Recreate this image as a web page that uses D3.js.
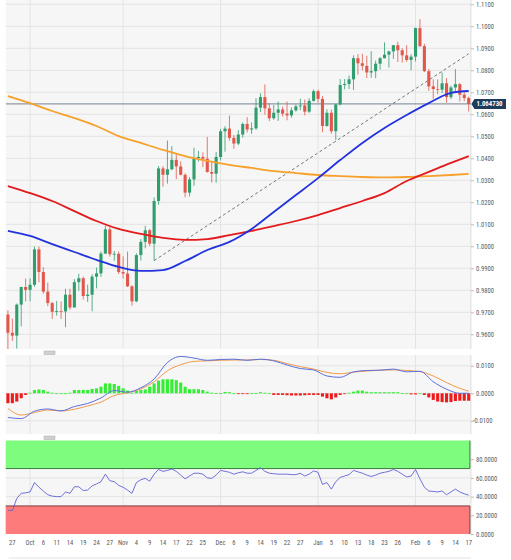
<!DOCTYPE html>
<html>
<head>
<meta charset="utf-8">
<script src="https://cdn.jsdelivr.net/npm/d3@7"></script>
<style>
  body { margin: 0; background: #fff; }
  text { font-family: "Liberation Sans Narrow", "Roboto Condensed", "Liberation Sans", Arial, sans-serif; }
</style>
</head>
<body>
<svg id="chart" width="511" height="560"></svg>
<script>
// daily candles, 26 Sep 2022 - 17 Feb 2023 (weekdays)
var openP = [0.9690,0.9607,0.9594,0.9735,0.9815,0.9802,0.9825,0.9986,0.9883,0.9794,
  0.9742,0.9702,0.9706,0.9704,0.9780,0.9722,0.9837,0.9855,0.9774,0.9780,
  0.9862,0.9877,0.9967,1.0077,0.9964,0.9966,0.9883,0.9876,0.9818,0.9750,
  0.9960,1.0020,1.0073,1.0012,1.0206,1.0354,1.0325,1.0350,1.0393,1.0363,
  1.0325,1.0244,1.0304,1.0401,1.0406,1.0398,1.0338,1.0330,1.0406,1.0523,
  1.0535,1.0493,1.0467,1.0508,1.0556,1.0531,1.0536,1.0630,1.0678,1.0627,
  1.0582,1.0607,1.0622,1.0603,1.0595,1.0618,1.0636,1.0640,1.0612,1.0661,
  1.0705,1.0670,1.0547,1.0607,1.0523,1.0645,1.0733,1.0738,1.0759,1.0855,
  1.0832,1.0820,1.0790,1.0796,1.0830,1.0855,1.0871,1.0886,1.0914,1.0891,
  1.0868,1.0847,1.0862,1.0992,1.0910,1.0796,1.0727,1.0715,1.0712,1.0741,
  1.0678,1.0722,1.0737,1.0689,1.0674]
var highP = [0.9709,0.9671,0.9740,0.9816,0.9853,0.9854,0.9999,0.9999,0.9905,0.9835,
  0.9748,0.9752,0.9749,0.9807,0.9807,0.9851,0.9875,0.9863,0.9826,0.9873,
  0.9903,0.9977,1.0094,1.0088,0.9979,0.9976,0.9954,0.9976,0.9823,0.9968,
  1.0033,1.0093,1.0079,1.0222,1.0365,1.0364,1.0481,1.0455,1.0420,1.0387,
  1.0332,1.0315,1.0448,1.0434,1.0427,1.0497,1.0386,1.0429,1.0534,1.0546,
  1.0594,1.0506,1.0528,1.0563,1.0587,1.0563,1.0673,1.0695,1.0736,1.0650,
  1.0642,1.0658,1.0635,1.0658,1.0631,1.0645,1.0671,1.0667,1.0673,1.0713,
  1.0712,1.0684,1.0623,1.0622,1.0648,1.0760,1.0760,1.0776,1.0868,1.0874,
  1.0875,1.0866,1.0887,1.0844,1.0860,1.0927,1.0888,1.0915,1.0930,1.0900,
  1.0914,1.0873,1.0994,1.1033,1.0921,1.0806,1.0759,1.0759,1.0790,1.0764,
  1.0730,1.0805,1.0742,1.0706,1.0680]
var lowP = [0.9528,0.9570,0.9535,0.9636,0.9749,0.9750,0.9816,0.9836,0.9784,0.9728,
  0.9670,0.9685,0.9670,0.9632,0.9712,0.9722,0.9798,0.9758,0.9747,0.9705,
  0.9809,0.9861,0.9965,0.9953,0.9934,0.9874,0.9853,0.9815,0.9730,0.9746,
  0.9935,0.9991,1.0001,0.9935,1.0188,1.0271,1.0285,1.0346,1.0305,1.0322,
  1.0223,1.0227,1.0275,1.0385,1.0360,1.0335,1.0290,1.0289,1.0390,1.0430,
  1.0480,1.0443,1.0460,1.0494,1.0517,1.0511,1.0529,1.0610,1.0598,1.0569,
  1.0575,1.0570,1.0590,1.0573,1.0585,1.0612,1.0619,1.0595,1.0606,1.0658,
  1.0653,1.0519,1.0544,1.0512,1.0483,1.0640,1.0713,1.0715,1.0711,1.0780,
  1.0800,1.0765,1.0766,1.0764,1.0803,1.0854,1.0812,1.0852,1.0838,1.0835,
  1.0838,1.0800,1.0840,1.0905,1.0792,1.0707,1.0669,1.0691,1.0697,1.0653,
  1.0669,1.0705,1.0659,1.0660,1.0613]
var closeP = [0.9607,0.9594,0.9735,0.9815,0.9802,0.9825,0.9986,0.9883,0.9794,0.9742,
  0.9702,0.9706,0.9704,0.9780,0.9722,0.9837,0.9855,0.9774,0.9780,0.9862,
  0.9877,0.9967,1.0077,0.9964,0.9966,0.9883,0.9876,0.9818,0.9750,0.9960,
  1.0020,1.0073,1.0012,1.0206,1.0354,1.0325,1.0350,1.0393,1.0363,1.0325,
  1.0244,1.0304,1.0401,1.0406,1.0398,1.0338,1.0330,1.0406,1.0523,1.0535,
  1.0493,1.0467,1.0508,1.0556,1.0531,1.0536,1.0630,1.0678,1.0627,1.0582,
  1.0607,1.0622,1.0603,1.0595,1.0618,1.0636,1.0640,1.0612,1.0661,1.0705,
  1.0670,1.0547,1.0607,1.0523,1.0645,1.0733,1.0738,1.0759,1.0855,1.0832,
  1.0820,1.0790,1.0796,1.0830,1.0855,1.0871,1.0886,1.0914,1.0891,1.0868,
  1.0847,1.0862,1.0992,1.0910,1.0796,1.0727,1.0715,1.0712,1.0741,1.0678,
  1.0722,1.0737,1.0689,1.0674,1.0647]
var lastPrice = 1.06473

// moving averages, read every 5 sessions
var maIdx = [0,5,10,15,20,25,30,35,40,45,50,55,60,65,70,75,80,85,90,95,100,104]
var sma50 = [1.0070,1.0047,1.0010,0.9974,0.9938,0.9906,0.9888,0.9892,0.9933,0.9983,1.0020,
  1.0079,1.0156,1.0233,1.0310,1.0392,1.0470,1.0538,1.0597,1.0651,1.0697,1.0706]
var sma100 = [1.0274,1.0242,1.0206,1.0160,1.0115,1.0079,1.0056,1.0038,1.0029,1.0033,1.0051,
  1.0070,1.0092,1.0115,1.0142,1.0174,1.0206,1.0242,1.0297,1.0338,1.0379,1.0410]
var sma200 = [1.0683,1.0651,1.0615,1.0583,1.0547,1.0501,1.0470,1.0438,1.0410,1.0388,1.0370,
  1.0356,1.0342,1.0333,1.0324,1.0319,1.0315,1.0313,1.0315,1.0319,1.0324,1.0329]
var trendDays = ["2022-11-10", "2023-02-17"]
var trendVals = [0.9935, 1.0875]

// MACD (x 1e-4), lines read every 3 sessions
var macdIdx = [0,3,6,9,12,15,18,21,24,27,30,33,36,39,42,45,48,51,54,57,60,63,66,69,72,75,78,81,84,87,90,93,96,99,102,104]
var macdLine = [-88,-92,-65,-57,-64,-48,-37,-17,10,4,20,52,112,134,128,120,123,124,120,124,
  118,103,90,85,63,58,78,83,84,88,78,80,42,15,0,0]
var signalLine = [-55,-79,-70,-61,-64,-58,-46,-32,-8,2,16,42,82,104,116,118,120,121,121,123,
  120,108,97,88,76,71,77,81,84,85,83,79,63,39,18,8]
var macdHist = [-36,-36,-30,-18,-6,2,12,14,12,6,2,0,0,0,2,12,12,12,12,16,
  18,24,36,36,34,27,18,10,2,10,12,14,24,36,46,51,51,51,48,39,
  24,15,15,15,12,6,2,1,1,5,4,0,-1,-1,-1,0,1,4,2,0,
  -6,-6,-6,-7,-8,-8,-8,-7,-6,-6,-6,-12,-18,-22,-15,-6,-1,2,6,10,
  10,6,4,4,4,4,4,4,4,1,0,-4,-4,0,-6,-15,-24,-30,-32,-33,
  -32,-28,-27,-27,-27]

// RSI(14)
var rsi = [25.5,25,38,43.5,44,45,55,50,46,42,40.5,40,40,45,43.5,50.5,50.5,46.5,47,51.5,
  53.5,56,64,57,56,52,50,47,43.5,55,58,59.5,56.5,64,69,67,68,69.5,67,63,
  59,62,65,65,64,60,59.5,63,68,67,66,64,65.5,66.5,65,65,68,71,67,65,
  64.5,64,64,64,63.5,63.5,65,62,64,67.5,66,53,55,48,56,60.5,62,63.5,68,66.5,
  65,63,61.5,63,65,66,67,69,67,64,61,62,69,59,50,46,45.5,45,46,42,
  45,48,45,43,41.5]

var priceTicks = [0.96,0.97,0.98,0.99,1.00,1.01,1.02,1.03,1.04,1.05,1.06,1.07,1.08,1.09,1.10,1.11]
var macdTicks = [-0.01, 0, 0.01]
var rsiTicks = [0, 20, 40, 60, 80]
var tickDays = ["2022-09-27","2022-10-03","2022-10-06","2022-10-11","2022-10-14","2022-10-19","2022-10-24","2022-10-27",
  "2022-11-01","2022-11-04","2022-11-09","2022-11-14","2022-11-17","2022-11-22","2022-11-25",
  "2022-12-01","2022-12-06","2022-12-09","2022-12-14","2022-12-19","2022-12-22","2022-12-27",
  "2023-01-02","2023-01-05","2023-01-10","2023-01-13","2023-01-18","2023-01-23","2023-01-26",
  "2023-02-01","2023-02-06","2023-02-09","2023-02-14","2023-02-17"]
var tickLabels = ["27","Oct","6","11","14","19","24","27","Nov","4","9","14","17","22","25",
  "Dec","6","9","14","19","22","27","Jan","5","10","13","18","23","26","Feb","6","9","14","17"]
var monthDays = ["2022-10-03","2022-11-01","2022-12-01","2023-01-02","2023-02-01"]

// layout ================================================================
var plotL = 5.7, plotR = 470.9
var panels = {
  main: { top: 0, bottom: 349 },
  macd: { top: 355, bottom: 434 },
  rsi:  { top: 441, bottom: 534 }
}
var color = {
  up: "#2f9d6e", down: "#e2574b",
  ma50: "#2233dd", ma100: "#e3191c", ma200: "#f7a02a",
  grid: "#e4e4e4", bg: "#f6f6f6", axisText: "#5a5a5a",
  macd: "#5b6fe0", signal: "#f29a4a", histUp: "#33ee33", histDown: "#ee1b1b",
  rsi: "#5f62d6"
}

var fmtKey = d3.timeFormat("%Y-%m-%d")
var days = d3.timeDay.range(new Date(2022, 8, 26), new Date(2023, 1, 18))
  .filter(function(d) { return d.getDay() !== 0 && d.getDay() !== 6 })
  .map(fmtKey)

var candles = days.map(function(d, i) {
  return { day: d, o: openP[i], h: highP[i], l: lowP[i], c: closeP[i] }
})

var x = d3.scaleBand().domain(days).range([plotL, plotR]).paddingInner(0.3).paddingOuter(0.15)
var cx = function(day) { return x(day) + x.bandwidth() / 2 }

var yP = d3.scaleLinear().domain([0.96, 1.10]).range([334.3, 26.3])
var yM = d3.scaleLinear().domain([-0.01, 0.01]).range([420.8, 365.8])
var yR = d3.scaleLinear().domain([0, 100]).range([534, 440.5])

var svg = d3.select("#chart")

// panel backgrounds + grids
Object.keys(panels).forEach(function(k) {
  var p = panels[k]
  svg.append("rect").attr("x", plotL).attr("y", p.top)
    .attr("width", plotR - plotL).attr("height", p.bottom - p.top)
    .attr("fill", color.bg)
  svg.append("g").selectAll("line").data(monthDays).enter().append("line")
    .attr("x1", function(d) { return cx(d) }).attr("x2", function(d) { return cx(d) })
    .attr("y1", p.top).attr("y2", p.bottom)
    .attr("stroke", color.grid).attr("stroke-width", 1)
  svg.append("line").attr("x1", plotR).attr("x2", plotR).attr("y1", p.top).attr("y2", p.bottom)
    .attr("stroke", "#dcdcdc")
})

function hGrid(scale, vals) {
  svg.append("g").selectAll("line").data(vals).enter().append("line")
    .attr("x1", plotL).attr("x2", plotR)
    .attr("y1", function(d) { return scale(d) }).attr("y2", function(d) { return scale(d) })
    .attr("stroke", color.grid)
}
hGrid(yP, priceTicks.filter(function(v) { return yP(v) > panels.main.top + 2 && yP(v) < panels.main.bottom }))
hGrid(yM, macdTicks)
hGrid(yR, [20, 40, 60, 80])

// right axes
function rightAxis(scale, vals, fmt) {
  var g = svg.append("g").attr("transform", "translate(" + plotR + ",0)")
    .call(d3.axisRight(scale).tickValues(vals).tickFormat(fmt).tickSize(3).tickPadding(2))
  g.select(".domain").remove()
  g.selectAll("line").attr("stroke", "#bbb")
  g.selectAll("text").attr("fill", color.axisText).attr("font-size", "6.6px")
    .attr("font-family", null)
    .attr("dx", function(d) { return d < 0 ? -3 : 0 })
  return g
}
rightAxis(yP, priceTicks, d3.format(".4f"))
rightAxis(yM, macdTicks, function(d) { return d3.format(".4f")(d).replace("\u2212", "-") })
rightAxis(yR, rsiTicks, d3.format(".4f"))

// main panel =============================================================
svg.append("clipPath").attr("id", "clipMain").append("rect")
  .attr("x", plotL).attr("y", panels.main.top)
  .attr("width", plotR - plotL + 4).attr("height", panels.main.bottom - panels.main.top)
var main = svg.append("g").attr("clip-path", "url(#clipMain)")

// current price line
main.append("line")
  .attr("x1", plotL).attr("x2", plotR)
  .attr("y1", yP(lastPrice)).attr("y2", yP(lastPrice))
  .attr("stroke", "#8e9aa6").attr("stroke-width", 1.4)

// trend line
main.append("path")
  .datum(trendDays.map(function(d, i) { return [cx(d), yP(trendVals[i])] }))
  .attr("d", d3.line())
  .attr("fill", "none").attr("stroke", "#666").attr("stroke-width", 0.9)
  .attr("stroke-dasharray", "3,2.5")

// candles
var candle = main.append("g").selectAll("g").data(candles).enter().append("g")
candle.append("line")
  .attr("x1", function(d) { return cx(d.day) }).attr("x2", function(d) { return cx(d.day) })
  .attr("y1", function(d) { return yP(d.h) }).attr("y2", function(d) { return yP(d.l) })
  .attr("stroke", function(d) { return d.c >= d.o ? color.up : color.down })
  .attr("stroke-width", 0.8)
candle.append("rect")
  .attr("x", function(d) { return x(d.day) })
  .attr("width", x.bandwidth())
  .attr("y", function(d) { return yP(Math.max(d.o, d.c)) })
  .attr("height", function(d) { return Math.max(0.8, Math.abs(yP(d.o) - yP(d.c))) })
  .attr("fill", function(d) { return d.c >= d.o ? color.up : color.down })

// moving averages
function maLine(vals, col) {
  main.append("path")
    .datum(maIdx.map(function(i, k) { return [cx(days[i]), yP(vals[k])] }))
    .attr("d", d3.line().curve(d3.curveMonotoneX))
    .attr("fill", "none").attr("stroke", col).attr("stroke-width", 1.8)
}
maLine(sma200, color.ma200)
maLine(sma100, color.ma100)
maLine(sma50, color.ma50)

// last price tag
var tagY = yP(lastPrice)
svg.append("path")
  .attr("d", "M" + (plotR + 0.5) + "," + tagY + " L" + (plotR + 3.5) + "," + (tagY - 5) +
        " H506 V" + (tagY + 5) + " H" + (plotR + 3.5) + " Z")
  .attr("fill", "#1f3c5c")
svg.append("text").attr("x", 489.5).attr("y", tagY).attr("dy", "0.35em")
  .attr("text-anchor", "middle").attr("fill", "#fff").attr("font-size", "6.8px")
  .attr("font-weight", "bold").text(d3.format(".6f")(lastPrice))

// MACD panel =============================================================
svg.append("g").selectAll("rect").data(macdHist).enter().append("rect")
  .attr("x", function(d, i) { return x(days[i]) })
  .attr("width", x.bandwidth())
  .attr("y", function(d) { return yM(Math.max(0, d / 10000)) })
  .attr("height", function(d) { return Math.max(0.8, Math.abs(yM(d / 10000) - yM(0))) })
  .attr("fill", function(d) { return d >= 0 ? color.histUp : color.histDown })

function macdPath(vals, col) {
  svg.append("path")
    .datum(macdIdx.map(function(i, k) { return [cx(days[i]), yM(vals[k] / 10000)] }))
    .attr("d", d3.line().curve(d3.curveMonotoneX))
    .attr("fill", "none").attr("stroke", col).attr("stroke-width", 1)
}
macdPath(signalLine, color.signal)
macdPath(macdLine, color.macd)

// RSI panel ==============================================================
svg.append("rect").attr("x", plotL).attr("width", plotR - plotL - 1)
  .attr("y", yR(100)).attr("height", yR(70) - yR(100))
  .attr("fill", "#7dfc7d")
svg.append("path")
  .attr("d", "M" + plotL + "," + yR(70) + " H" + (plotR - 1) + " V" + yR(100))
  .attr("fill", "none").attr("stroke", "#3f7d3f").attr("stroke-width", 1)
svg.append("rect").attr("x", plotL).attr("width", plotR - plotL - 1)
  .attr("y", yR(30)).attr("height", yR(0) - yR(30))
  .attr("fill", "#fd7b7b")
svg.append("path")
  .attr("d", "M" + plotL + "," + yR(30) + " H" + (plotR - 1) + " V" + yR(0))
  .attr("fill", "none").attr("stroke", "#7d3f3f").attr("stroke-width", 1)

svg.append("path")
  .datum(rsi.map(function(v, i) { return [cx(days[i]), yR(v)] }))
  .attr("d", d3.line())
  .attr("fill", "none").attr("stroke", color.rsi).attr("stroke-width", 0.9)

// x labels
svg.append("g").selectAll("text").data(tickDays).enter().append("text")
  .attr("x", function(d) { return cx(d) })
  .attr("y", 543).attr("dy", "0.35em")
  .attr("text-anchor", "middle")
  .attr("fill", color.axisText).attr("font-size", "6.6px")
  .text(function(d, i) { return tickLabels[i] })

svg.append("line").attr("x1", plotL + 3).attr("x2", plotR).attr("y1", 558).attr("y2", 558)
  .attr("stroke", "#e2e2e2")

// panel resize grips
;[351, 436].forEach(function(gy) {
  svg.append("rect").attr("x", 44).attr("y", gy).attr("width", 11).attr("height", 3.5)
    .attr("fill", "#d0d0d0").attr("stroke", "#aaa").attr("stroke-width", 0.5)
})
</script>
</body>
</html>
